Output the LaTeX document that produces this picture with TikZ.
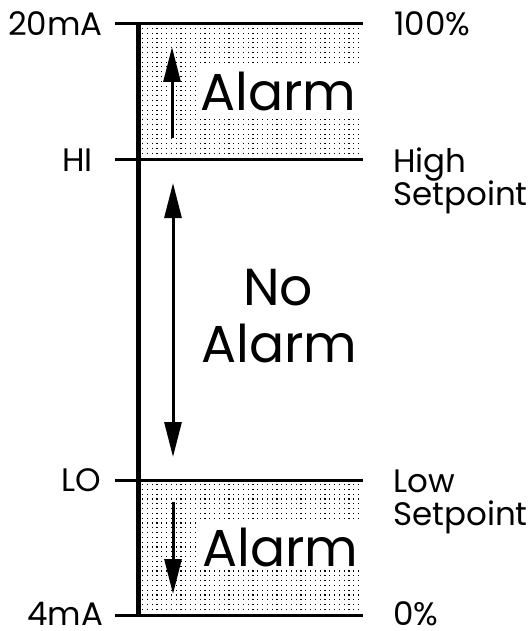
\documentclass[tikz,border=0pt]{standalone}
\usepackage{fontspec}
\setmainfont{Poppins}
\usetikzlibrary{arrows.meta}
\begin{document}
\begin{tikzpicture}[x=1pt,y=-1pt,
  scaleline/.style={line width=3pt},
  axisline/.style={line width=5.5pt},
  uparr/.style={line width=3pt,-{Triangle[length=35pt,width=17pt]}},
  bothways/.style={line width=3pt,{Triangle[length=35pt,width=17pt]}-{Triangle[length=35pt,width=17pt]}},
  lbl/.style={font=\fontsize{32.5}{36}\selectfont,inner sep=0pt,text depth=0pt,anchor=base west},
  big/.style={font=\fontsize{52}{60}\selectfont,inner sep=0pt,text depth=0pt,anchor=base west},
  zonelabel/.style={big,fill=white,text height=42pt,text depth=0pt,inner xsep=3pt,inner ysep=4pt}]
\useasboundingbox (0,0) rectangle (532,631);

% stippled alarm zones
\foreach \y in {28,32.8,...,157} {
  \foreach \x in {142,146.8,...,361} {
    \fill (\x,\y) rectangle ++(1.1,1.1);
  }
}
\foreach \y in {484,488.8,...,613} {
  \foreach \x in {142,146.8,...,361} {
    \fill (\x,\y) rectangle ++(1.1,1.1);
  }
}

% scale lines
\coordinate (l20) at (115,24);  \coordinate (r20) at (363,24);
\coordinate (lhi) at (115,160); \coordinate (rhi) at (363,160);
\coordinate (llo) at (115,480); \coordinate (rlo) at (363,480);
\coordinate (l4)  at (115,615); \coordinate (r4)  at (363,615);
\coordinate (axtop) at (138.5,22.5);
\coordinate (axbot) at (138.5,616.5);
\draw[scaleline] (l20) -- (r20);
\draw[scaleline] (lhi) -- (rhi);
\draw[scaleline] (llo) -- (rlo);
\draw[scaleline] (l4) -- (r4);
\draw[axisline] (axtop) -- (axbot);

% direction arrows
\coordinate (ua) at (172,138); \coordinate (ub) at (172,47);
\coordinate (ma) at (173,183); \coordinate (mb) at (173,457);
\coordinate (da) at (173,502); \coordinate (db) at (173,594);
\draw[uparr] (ua) -- (ub);
\draw[bothways] (ma) -- (mb);
\draw[uparr] (da) -- (db);

% zone texts
\node[zonelabel] (alarmhi) at (197,111) {Alarm};
\node[zonelabel] (alarmlo) at (199,566) {Alarm};
\node[big] (no) at (243,305) {No};
\node[big] (noalarm) at (201,362) {Alarm};

% left labels
\node[lbl] (ma20) at (8,35.5) {20mA};
\node[lbl] (hi) at (62,171.5) {HI};
\node[lbl] (lo) at (61,491.5) {LO};
\node[lbl] (ma4) at (27,625) {4mA};

% right labels
\node[lbl] (p100) at (394,35.5) {100\%};
\node[lbl] (high) at (393,172) {High};
\node[lbl] (hisp) at (393,205) {Setpoint};
\node[lbl] (low) at (393,492) {Low};
\node[lbl] (losp) at (393,525) {Setpoint};
\node[lbl] (p0) at (393,625) {0\%};
\end{tikzpicture}
\end{document}
